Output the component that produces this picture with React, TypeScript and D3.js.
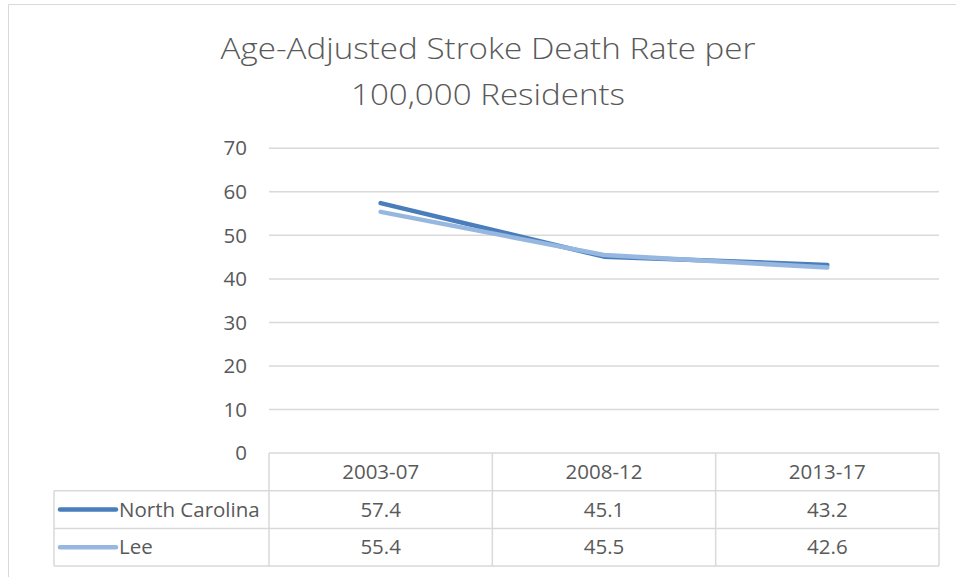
import React from "react";
import * as d3 from "d3";

const categories = ["2003-07", "2008-12", "2013-17"];
const northCarolina = [57.4, 45.1, 43.2];
const lee = [55.4, 45.5, 42.6];
const seriesNames = ["North Carolina", "Lee"];
const seriesColors = ["#4a7eba", "#95b7e0"];
const yTicks = [0, 10, 20, 30, 40, 50, 60, 70];
const titleLines = ["Age-Adjusted Stroke Death Rate per", "100,000 Residents"];

const W = 956;
const H = 577;
const plotLeft = 269;
const plotRight = 939;
const plotTop = 148.3;
const plotBottom = 453;
const legendLeft = 54;
const rowH = 37.7;
const textColor = "#595959";
const gridColor = "#d9d9d9";
const font = "'Open Sans', 'Noto Sans', sans-serif";
const titleWidths = [535, 274];
const labelSize = 20.5;

export default function App() {
  const x = d3.scaleBand<string>().domain(categories).range([plotLeft, plotRight]);
  const y = d3.scaleLinear().domain([0, 70]).range([plotBottom, plotTop]);
  const line = d3
    .line<number>()
    .x((_, i) => (x(categories[i]) as number) + x.bandwidth() / 2)
    .y((d) => y(d));
  const series = [northCarolina, lee];
  const tableBottom = plotBottom + rowH * 3;

  return (
    <svg
      width={W}
      height={H}
      style={{ position: "absolute", left: 0, top: 0, background: "#fff" }}
      fontFamily={font}
    >
      <rect x={0} y={0} width={W} height={H} fill="#fff" />
      {/* chart frame */}
      <line x1={8.5} x2={W} y1={4.5} y2={4.5} stroke={gridColor} strokeWidth={1} />
      <line x1={8.5} x2={8.5} y1={4.5} y2={H} stroke={gridColor} strokeWidth={1} />

      {/* title */}
      {titleLines.map((t, i) => (
        <text
          key={t}
          x={488}
          y={59 + i * 46}
          textAnchor="middle"
          fontSize={30}
          fontWeight={300}
          fill={textColor}
          textLength={titleWidths[i]}
          lengthAdjust="spacingAndGlyphs"
        >
          {t}
        </text>
      ))}

      {/* gridlines and y ticks */}
      {yTicks.map((t) => (
        <g key={t}>
          {t > 0 && (
            <line
              x1={plotLeft}
              x2={plotRight}
              y1={y(t)}
              y2={y(t)}
              stroke={gridColor}
              strokeWidth={1.5}
            />
          )}
          <text
            x={247}
            y={y(t)}
            dy="0.35em"
            textAnchor="end"
            fontSize={labelSize}
            fill={textColor}
          >
            {t}
          </text>
        </g>
      ))}

      {/* data table */}
      <g stroke={gridColor} strokeWidth={1.5} fill="none">
        <line x1={plotLeft} x2={plotRight} y1={plotBottom} y2={plotBottom} />
        {[1, 2, 3].map((r) => (
          <line
            key={r}
            x1={legendLeft}
            x2={plotRight}
            y1={plotBottom + rowH * r}
            y2={plotBottom + rowH * r}
          />
        ))}
        <line x1={legendLeft} x2={legendLeft} y1={plotBottom + rowH} y2={tableBottom} />
        {categories.map((c) => (
          <line
            key={c}
            x1={x(c) as number}
            x2={x(c) as number}
            y1={plotBottom}
            y2={tableBottom}
          />
        ))}
        <line x1={plotRight} x2={plotRight} y1={plotBottom} y2={tableBottom} />
      </g>
      {categories.map((c) => (
        <text
          key={c}
          x={(x(c) as number) + x.bandwidth() / 2}
          y={plotBottom + rowH / 2}
          dy="0.35em"
          textAnchor="middle"
          fontSize={labelSize}
          fill={textColor}
        >
          {c}
        </text>
      ))}
      {series.map((s, si) => (
        <g key={seriesNames[si]}>
          <line
            x1={60}
            x2={116}
            y1={plotBottom + rowH * (si + 1.5)}
            y2={plotBottom + rowH * (si + 1.5)}
            stroke={seriesColors[si]}
            strokeWidth={4.5}
            strokeLinecap="round"
          />
          <text
            x={119}
            y={plotBottom + rowH * (si + 1.5)}
            dy="0.35em"
            fontSize={labelSize}
            fill={textColor}
          >
            {seriesNames[si]}
          </text>
          {s.map((v, i) => (
            <text
              key={i}
              x={(x(categories[i]) as number) + x.bandwidth() / 2}
              y={plotBottom + rowH * (si + 1.5)}
              dy="0.35em"
              textAnchor="middle"
              fontSize={labelSize}
              fill={textColor}
            >
              {v.toFixed(1)}
            </text>
          ))}
        </g>
      ))}

      {/* lines */}
      {series.map((s, si) => (
        <path
          key={si}
          d={line(s) as string}
          fill="none"
          stroke={seriesColors[si]}
          strokeWidth={4.5}
          strokeLinecap="round"
          strokeLinejoin="round"
        />
      ))}
    </svg>
  );
}
